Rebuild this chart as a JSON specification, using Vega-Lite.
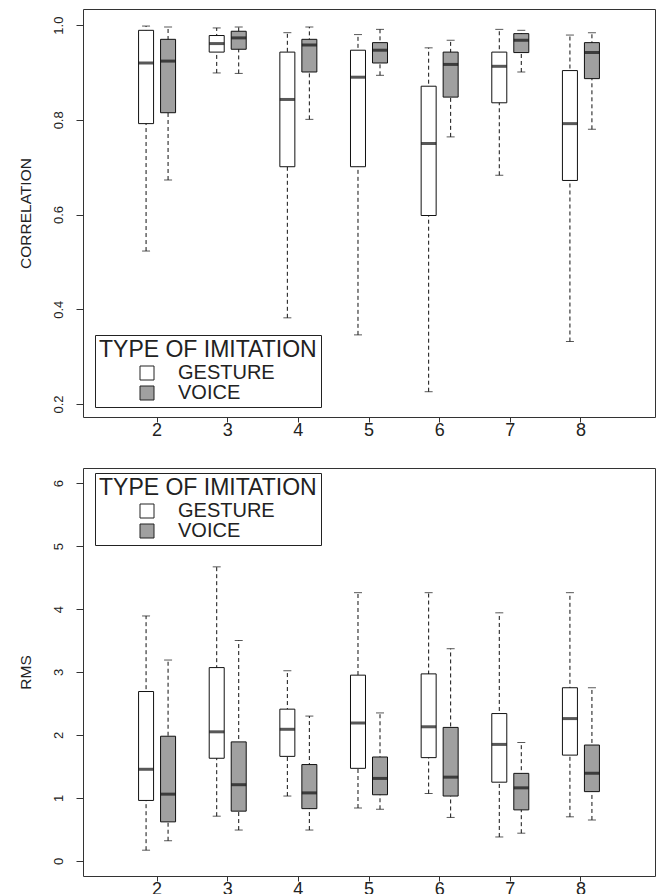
{
  "$schema": "https://vega.github.io/schema/vega-lite/v6.json",
  "padding": {"left": 17, "top": 8, "right": 3, "bottom": 0},
  "background": "white",
  "config": {
    "font": "Liberation Sans",
    "view": {"stroke": "#333", "strokeWidth": 1},
    "axis": {"grid": false, "domain": false, "labelColor": "#222", "titleColor": "#222", "tickColor": "#333", "titleFontWeight": "normal"},
    "concat": {"spacing": 27}
  },
  "datasets": {
    "corr": [
      {"k": 2, "type": "GESTURE", "lower": 0.523, "q1": 0.792, "median": 0.920, "q3": 0.989, "upper": 0.998},
      {"k": 2, "type": "VOICE", "lower": 0.673, "q1": 0.815, "median": 0.924, "q3": 0.970, "upper": 0.996},
      {"k": 3, "type": "GESTURE", "lower": 0.899, "q1": 0.943, "median": 0.961, "q3": 0.978, "upper": 0.994},
      {"k": 3, "type": "VOICE", "lower": 0.898, "q1": 0.949, "median": 0.973, "q3": 0.987, "upper": 0.996},
      {"k": 4, "type": "GESTURE", "lower": 0.382, "q1": 0.701, "median": 0.843, "q3": 0.943, "upper": 0.984},
      {"k": 4, "type": "VOICE", "lower": 0.801, "q1": 0.901, "median": 0.958, "q3": 0.970, "upper": 0.996},
      {"k": 5, "type": "GESTURE", "lower": 0.346, "q1": 0.701, "median": 0.890, "q3": 0.947, "upper": 0.980},
      {"k": 5, "type": "VOICE", "lower": 0.894, "q1": 0.920, "median": 0.947, "q3": 0.963, "upper": 0.991},
      {"k": 6, "type": "GESTURE", "lower": 0.226, "q1": 0.598, "median": 0.750, "q3": 0.871, "upper": 0.952},
      {"k": 6, "type": "VOICE", "lower": 0.764, "q1": 0.848, "median": 0.917, "q3": 0.943, "upper": 0.968},
      {"k": 7, "type": "GESTURE", "lower": 0.683, "q1": 0.836, "median": 0.913, "q3": 0.943, "upper": 0.991},
      {"k": 7, "type": "VOICE", "lower": 0.901, "q1": 0.942, "median": 0.968, "q3": 0.982, "upper": 0.989},
      {"k": 8, "type": "GESTURE", "lower": 0.332, "q1": 0.672, "median": 0.792, "q3": 0.904, "upper": 0.979},
      {"k": 8, "type": "VOICE", "lower": 0.780, "q1": 0.887, "median": 0.942, "q3": 0.963, "upper": 0.984}
    ],
    "rms": [
      {"k": 2, "type": "GESTURE", "lower": 0.17, "q1": 0.96, "median": 1.455, "q3": 2.69, "upper": 3.89},
      {"k": 2, "type": "VOICE", "lower": 0.32, "q1": 0.62, "median": 1.06, "q3": 1.98, "upper": 3.19},
      {"k": 3, "type": "GESTURE", "lower": 0.71, "q1": 1.63, "median": 2.05, "q3": 3.07, "upper": 4.67},
      {"k": 3, "type": "VOICE", "lower": 0.49, "q1": 0.79, "median": 1.21, "q3": 1.89, "upper": 3.50},
      {"k": 4, "type": "GESTURE", "lower": 1.03, "q1": 1.66, "median": 2.09, "q3": 2.41, "upper": 3.02},
      {"k": 4, "type": "VOICE", "lower": 0.49, "q1": 0.83, "median": 1.08, "q3": 1.53, "upper": 2.30},
      {"k": 5, "type": "GESTURE", "lower": 0.84, "q1": 1.47, "median": 2.19, "q3": 2.95, "upper": 4.26},
      {"k": 5, "type": "VOICE", "lower": 0.82, "q1": 1.05, "median": 1.31, "q3": 1.65, "upper": 2.35},
      {"k": 6, "type": "GESTURE", "lower": 1.07, "q1": 1.64, "median": 2.13, "q3": 2.97, "upper": 4.26},
      {"k": 6, "type": "VOICE", "lower": 0.69, "q1": 1.03, "median": 1.33, "q3": 2.12, "upper": 3.37},
      {"k": 7, "type": "GESTURE", "lower": 0.38, "q1": 1.25, "median": 1.85, "q3": 2.34, "upper": 3.94},
      {"k": 7, "type": "VOICE", "lower": 0.44, "q1": 0.81, "median": 1.16, "q3": 1.39, "upper": 1.88},
      {"k": 8, "type": "GESTURE", "lower": 0.70, "q1": 1.68, "median": 2.26, "q3": 2.75, "upper": 4.26},
      {"k": 8, "type": "VOICE", "lower": 0.65, "q1": 1.10, "median": 1.39, "q3": 1.84, "upper": 2.75}
    ]
  },
  "resolve": {"scale": {"fill": "independent"}, "legend": {"fill": "independent"}},
  "vconcat": [
    {
      "width": 572,
      "height": 408,
      "data": {"name": "corr"},
      "encoding": {
        "x": {"field": "k", "type": "ordinal", "scale": {"paddingInner": 0.377, "paddingOuter": 0.737}, "axis": {"title": null, "labelAngle": 0, "labelFontSize": 18, "tickSize": 5, "labelPadding": -1}},
        "xOffset": {"field": "type", "type": "nominal", "scale": {"paddingInner": 0, "paddingOuter": 0}}
      },
      "layer": [
        {
          "mark": {"type": "rule", "color": "#111", "strokeWidth": 1, "strokeDash": [4, 3]},
          "encoding": {
            "y": {"field": "lower", "type": "quantitative", "scale": {"domain": [0.1726, 1.034], "nice": false, "zero": false}, "axis": {"title": "CORRELATION", "titleFontSize": 15.5, "titlePadding": 19, "values": [0.2, 0.4, 0.6, 0.8, 1.0], "format": ".1f", "labelAngle": -90, "labelAlign": "center", "labelBaseline": "bottom", "labelFontSize": 13, "labelPadding": 11, "tickSize": 7}},
            "y2": {"field": "upper"}
          }
        },
        {"mark": {"type": "tick", "color": "#111", "size": 8, "thickness": 1}, "encoding": {"y": {"field": "lower", "type": "quantitative"}}},
        {"mark": {"type": "tick", "color": "#111", "size": 8, "thickness": 1}, "encoding": {"y": {"field": "upper", "type": "quantitative"}}},
        {
          "mark": {"type": "bar", "size": 15, "stroke": "#111", "strokeWidth": 1},
          "encoding": {
            "y": {"field": "q1", "type": "quantitative"},
            "y2": {"field": "q3"},
            "fill": {"field": "type", "type": "nominal", "scale": {"domain": ["GESTURE", "VOICE"], "range": ["#ffffff", "#a0a0a0"]},
              "legend": {"orient": "none", "legendX": 12, "legendY": 326, "title": "TYPE OF IMITATION", "titleLimit": 500, "titleFontSize": 23, "titleFontWeight": "normal", "titleColor": "#222", "labelFontSize": 20, "labelColor": "#222", "symbolType": "square", "symbolSize": 196, "symbolStrokeColor": "#222", "symbolStrokeWidth": 1, "symbolOffset": 38, "labelOffset": 21, "padding": 4, "strokeColor": "#222", "fillColor": "white", "rowPadding": 0, "titlePadding": 1}}
          }
        },
        {"mark": {"type": "tick", "color": "#111", "size": 15, "thickness": 3}, "encoding": {"y": {"field": "median", "type": "quantitative"}}}
      ]
    },
    {
      "width": 572,
      "height": 408,
      "data": {"name": "rms"},
      "encoding": {
        "x": {"field": "k", "type": "ordinal", "scale": {"paddingInner": 0.377, "paddingOuter": 0.737}, "axis": {"title": null, "labelAngle": 0, "labelFontSize": 18, "tickSize": 5, "labelPadding": -1}},
        "xOffset": {"field": "type", "type": "nominal", "scale": {"paddingInner": 0, "paddingOuter": 0}}
      },
      "layer": [
        {
          "mark": {"type": "rule", "color": "#111", "strokeWidth": 1, "strokeDash": [4, 3]},
          "encoding": {
            "y": {"field": "lower", "type": "quantitative", "scale": {"domain": [-0.24, 6.24], "nice": false, "zero": false}, "axis": {"title": "RMS", "titleFontSize": 15.5, "titlePadding": 19, "values": [0, 1, 2, 3, 4, 5, 6], "format": "d", "labelAngle": -90, "labelAlign": "center", "labelBaseline": "bottom", "labelFontSize": 13, "labelPadding": 11, "tickSize": 7}},
            "y2": {"field": "upper"}
          }
        },
        {"mark": {"type": "tick", "color": "#111", "size": 8, "thickness": 1}, "encoding": {"y": {"field": "lower", "type": "quantitative"}}},
        {"mark": {"type": "tick", "color": "#111", "size": 8, "thickness": 1}, "encoding": {"y": {"field": "upper", "type": "quantitative"}}},
        {
          "mark": {"type": "bar", "size": 15, "stroke": "#111", "strokeWidth": 1},
          "encoding": {
            "y": {"field": "q1", "type": "quantitative"},
            "y2": {"field": "q3"},
            "fill": {"field": "type", "type": "nominal", "scale": {"domain": ["GESTURE", "VOICE"], "range": ["#ffffff", "#a0a0a0"]},
              "legend": {"orient": "none", "legendX": 12, "legendY": 5, "title": "TYPE OF IMITATION", "titleLimit": 500, "titleFontSize": 23, "titleFontWeight": "normal", "titleColor": "#222", "labelFontSize": 20, "labelColor": "#222", "symbolType": "square", "symbolSize": 196, "symbolStrokeColor": "#222", "symbolStrokeWidth": 1, "symbolOffset": 38, "labelOffset": 21, "padding": 4, "strokeColor": "#222", "fillColor": "white", "rowPadding": 0, "titlePadding": 1}}
          }
        },
        {"mark": {"type": "tick", "color": "#111", "size": 15, "thickness": 3}, "encoding": {"y": {"field": "median", "type": "quantitative"}}}
      ]
    }
  ]
}
